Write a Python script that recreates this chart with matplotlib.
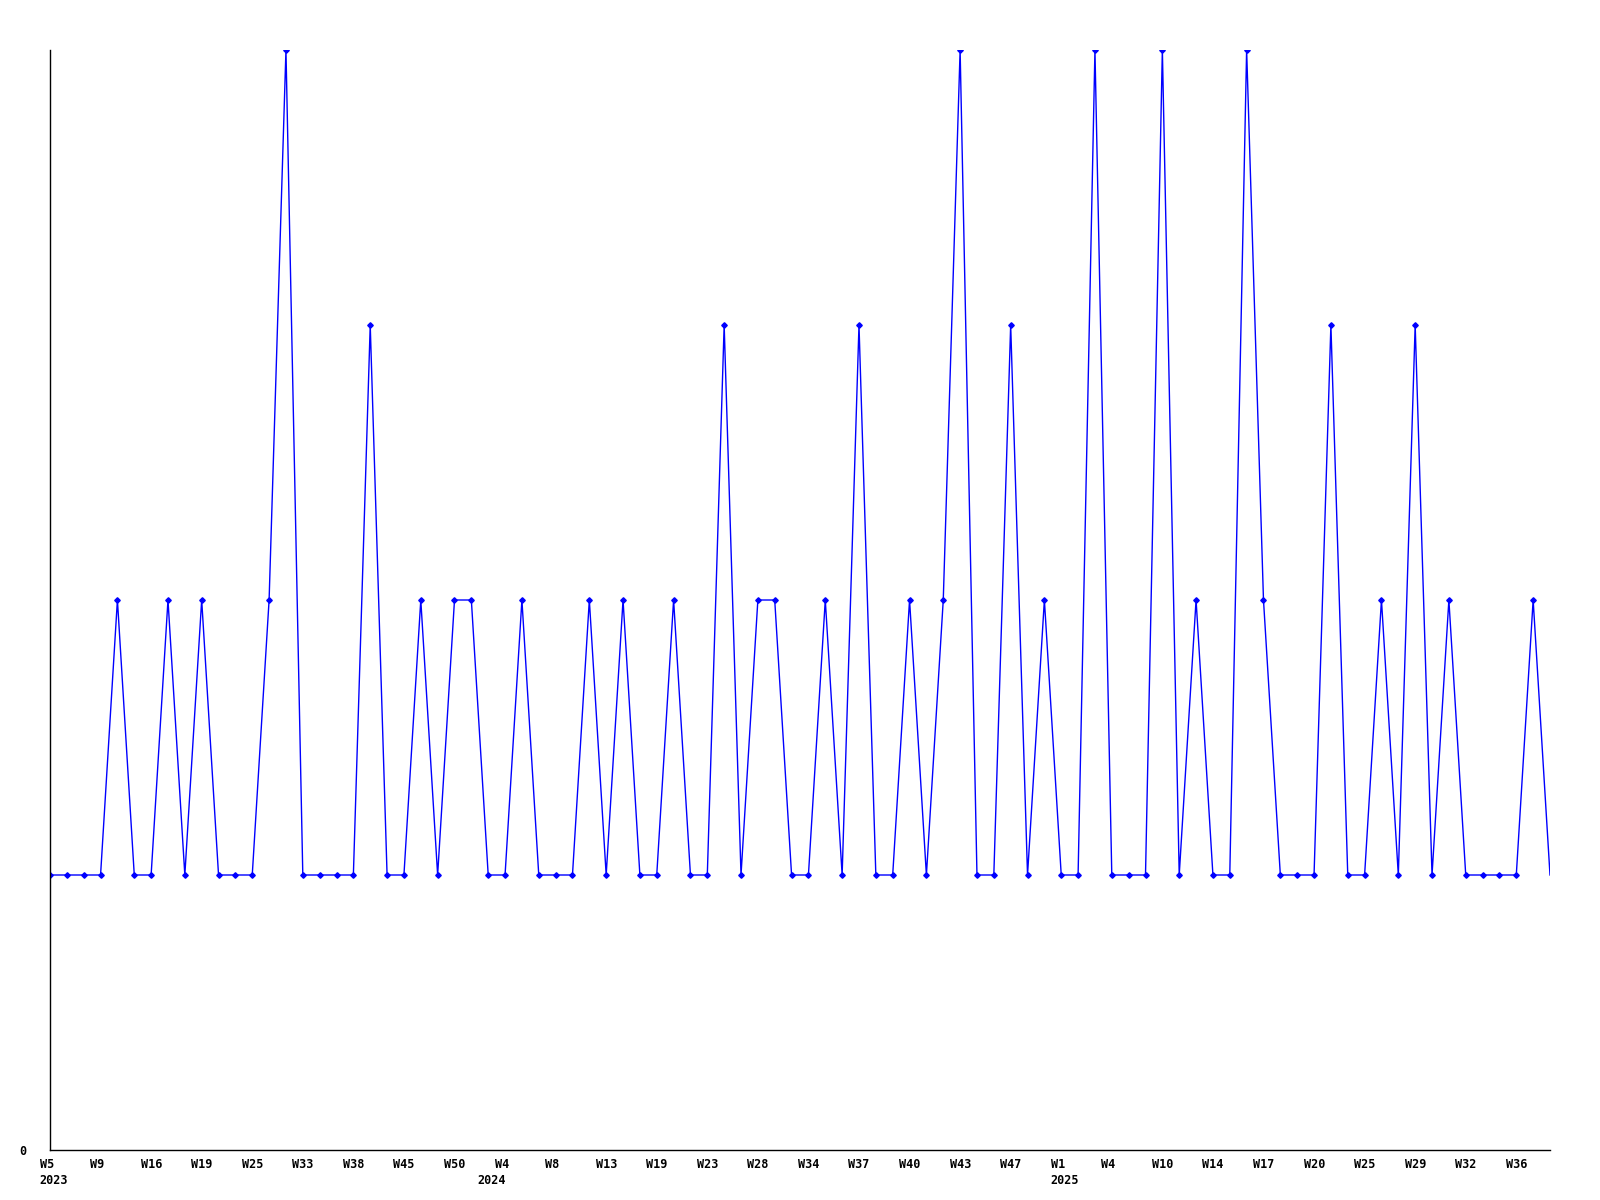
import matplotlib
matplotlib.use("Agg")
import matplotlib.pyplot as plt
from matplotlib.transforms import ScaledTranslation

values = [1, 1, 1, 1, 2, 1, 1, 2, 1, 2,
          1, 1, 1, 2, 4, 1, 1, 1, 1, 3,
          1, 1, 2, 1, 2, 2, 1, 1, 2, 1,
          1, 1, 2, 1, 2, 1, 1, 2, 1, 1,
          3, 1, 2, 2, 1, 1, 2, 1, 3, 1,
          1, 2, 1, 2, 4, 1, 1, 3, 1, 2,
          1, 1, 4, 1, 1, 1, 4, 1, 2, 1,
          1, 4, 2, 1, 1, 1, 3, 1, 1, 2,
          1, 3, 1, 2, 1, 1, 1, 1, 2, 1]

week_labels = ["W5", "W9", "W16", "W19", "W25", "W33", "W38", "W45", "W50",
               "W4", "W8", "W13", "W19", "W23", "W28", "W34", "W37", "W40",
               "W43", "W47", "W1", "W4", "W10", "W14", "W17", "W20", "W25",
               "W29", "W32", "W36"]
tick_every = 3
year_labels = ["2023", "2024", "2025"]
year_positions = [0, 26, 60]

fig = plt.figure(figsize=(16, 12), dpi=100)
ax = fig.add_axes([50 / 1600, 50 / 1200, 1500 / 1600, 1100 / 1200])

x = list(range(len(values)))
ax.plot(x, values, color="#0000ff", linewidth=1.0, marker="D", markersize=2.8,
        markerfacecolor="#0000ff", markeredgecolor="#0000ff",
        markevery=list(range(len(values) - 1)), solid_joinstyle="miter")

ax.set_xlim(0, len(values) - 1)
ax.set_ylim(0, 4)

for s in ["top", "right"]:
    ax.spines[s].set_visible(False)
for s in ["left", "bottom"]:
    ax.spines[s].set_color("black")
    ax.spines[s].set_linewidth(1.0)

font = dict(family="DejaVu Sans Mono", weight="bold", size=8.5)

ax.set_yticks([0])
ax.set_yticklabels(["0"], fontdict=font)
ax.tick_params(axis="y", length=0, pad=17)

ax.xaxis.remove_overlapping_locs = False
ax.set_xticks(list(range(0, len(values), tick_every)))
ax.set_xticklabels(week_labels, fontdict=font, ha="left")
ax.set_xticks(year_positions, minor=True)
ax.set_xticklabels(year_labels, minor=True, fontdict=font, ha="left")
ax.tick_params(axis="x", which="major", length=0, pad=6)
ax.tick_params(axis="x", which="minor", length=0, pad=17)
offset = ScaledTranslation(-10.5 / 100, 0, fig.dpi_scale_trans)
for lab in ax.get_xticklabels() + ax.get_xticklabels(minor=True):
    lab.set_transform(lab.get_transform() + offset)

fig.savefig("out.png", dpi=100, facecolor="white")
